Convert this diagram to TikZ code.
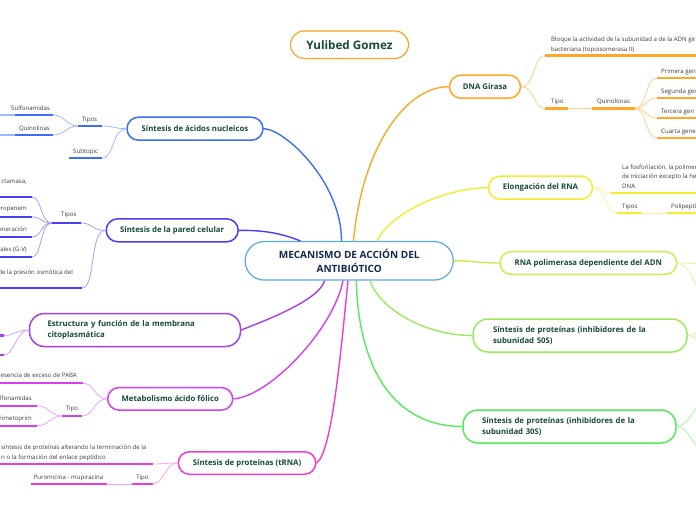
\documentclass[tikz,border=0pt]{standalone}
\usepackage{fontspec}
\setmainfont{Open Sans}
\definecolor{lbl}{HTML}{174A3C}
\definecolor{navy}{HTML}{13294B}
\definecolor{subtxt}{HTML}{3A3A3A}
\definecolor{ttlC}{HTML}{F5A623}
\definecolor{cenC}{HTML}{5AAAE0}
\definecolor{dnaC}{HTML}{FFA726}
\definecolor{dnaL}{HTML}{FFD08A}
\definecolor{elC}{HTML}{F4EC2E}
\definecolor{elL}{HTML}{F8F29A}
\definecolor{rpC}{HTML}{C6EE52}
\definecolor{rpL}{HTML}{E1F5A6}
\definecolor{sfC}{HTML}{9BEA5A}
\definecolor{sfL}{HTML}{CDF4AC}
\definecolor{stC}{HTML}{55EA5A}
\definecolor{stL}{HTML}{A8F3AB}
\definecolor{acC}{HTML}{3D6EF5}
\definecolor{acL}{HTML}{A0B8FA}
\definecolor{paC}{HTML}{4B3CF5}
\definecolor{paL}{HTML}{A79DF9}
\definecolor{meC}{HTML}{A23FF0}
\definecolor{meL}{HTML}{D0A2F8}
\definecolor{foC}{HTML}{D63FF0}
\definecolor{foL}{HTML}{EBA3F8}
\definecolor{trC}{HTML}{F03CD6}
\definecolor{trL}{HTML}{F8A3EC}
\begin{document}
\begin{tikzpicture}[x=1pt,y=-1pt,
 box/.style={draw,line width=1.5pt,fill=white,text=lbl,inner sep=0pt,font=\fontsize{7.8}{11}\selectfont\bfseries},
 subt/.style={inner sep=0pt,text=subtxt,font=\fontsize{6.1}{9.5}\selectfont},
 uline/.style={line width=2.2pt},
 mainc/.style={line width=1.4pt},
 linkc/.style={line width=0.8pt}]
\useasboundingbox (0,0) rectangle (696,520);

% ---------- boxes ----------
\node[box,draw=ttlC,line width=1.2pt,minimum width=118pt,minimum height=27.5pt,rounded corners=13.7pt,font=\fontsize{11.7}{14}\selectfont\bfseries] (title) at (349.5,44.7) {Yulibed Gomez};
\node[box,draw=cenC,line width=1.2pt,minimum width=208pt,minimum height=38.5pt,rounded corners=19pt,align=center,text=navy,font=\fontsize{10}{14}\selectfont\bfseries] (central) at (349.2,260.8) {MECANISMO DE ACCIÓN DEL\\ANTIBIÓTICO};
\node[box,draw=dnaC,minimum width=71pt,minimum height=23pt,rounded corners=11.5pt] (dna) at (485,86.7) {DNA Girasa};
\node[box,draw=elC,minimum width=104pt,minimum height=23pt,rounded corners=11.5pt] (elong) at (540.5,187.7) {Elongación del RNA};
\node[box,draw=rpC,minimum width=176.7pt,minimum height=22.7pt,rounded corners=11.3pt] (rnapol) at (588.3,263) {RNA polimerasa dependiente del ADN};
\node[box,draw=sfC,text width=174pt,inner xsep=20pt,minimum height=33pt,rounded corners=15pt,align=left] (s50) at (580,335.5) {Síntesis de proteínas (inhibidores de la\\subunidad 50S)};
\node[box,draw=stC,text width=175pt,inner xsep=19pt,minimum height=33pt,rounded corners=15pt,align=left] (s30) at (569.5,426.5) {Síntesis de proteínas (inhibidores de la\\subunidad 30S)};
\node[box,draw=acC,minimum width=136pt,minimum height=23pt,rounded corners=11.5pt] (acidos) at (195,128.7) {Síntesis de ácidos nucleicos};
\node[box,draw=paC,minimum width=132pt,minimum height=23pt,rounded corners=11.5pt] (pared) at (172.2,230.3) {Síntesis de la pared celular};
\node[box,draw=meC,text width=175pt,inner xsep=18pt,minimum height=33pt,rounded corners=15pt,align=left] (memb) at (135,330) {Estructura y función de la membrana\\citoplasmática};
\node[box,draw=foC,minimum width=125pt,minimum height=22.5pt,rounded corners=11.2pt] (folico) at (170.2,398.8) {Metabolismo ácido fólico};
\node[box,draw=trC,minimum width=137.5pt,minimum height=22.5pt,rounded corners=11.2pt] (trna) at (247,463) {Síntesis de proteínas (tRNA)};

% ---------- main connectors ----------
\draw[mainc,acC] (acidos.east) .. controls +(20,0) and +(0,-60) .. ([xshift=-7.7pt]central.north);
\draw[mainc,dnaC] ([xshift=4.3pt]central.north) .. controls +(8,-90) and +(-45,0) .. (dna.west);
\draw[mainc,elC] ([xshift=27.8pt]central.north) .. controls +(15,-30) and +(-40,0) .. (elong.west);
\draw[mainc,rpC] (central.east) .. controls +(20,0) and +(-20,0) .. (rnapol.west);
\draw[mainc,sfC] ([xshift=21pt]central.south) .. controls +(10,30) and +(-45,0) .. (s50.west);
\draw[mainc,stC] ([xshift=7pt]central.south) .. controls +(3,100) and +(-60,0) .. (s30.west);
\draw[mainc,paC] (pared.east) .. controls +(25,0) and +(-20,-8) .. ([xshift=-48.7pt]central.north);
\draw[mainc,meC] ([xshift=-24.7pt]central.south) .. controls +(-5,20) and +(20,-8) .. (memb.east);
\draw[mainc,foC] ([xshift=-6.2pt]central.south) .. controls +(-10,50) and +(35,-2) .. (folico.east);
\draw[mainc,trC] ([xshift=-1.2pt]central.south) .. controls +(-8,80) and +(15,-10) .. (trna.east);

% ---------- DNA Girasa children ----------
\coordinate (bqL) at (545,55.5); \coordinate (bqR) at (700,55.5);
\coordinate (tpL) at (545,108.5); \coordinate (tpR) at (568,108.5);
\coordinate (qnL) at (592,108.5); \coordinate (qnR) at (635,108.5);
\coordinate (g1L) at (657,78); \coordinate (g1R) at (700,78);
\coordinate (g2L) at (657,98); \coordinate (g2R) at (700,98);
\coordinate (g3L) at (657,118); \coordinate (g3R) at (700,118);
\coordinate (g4L) at (657,138); \coordinate (g4R) at (700,138);
\draw[linkc,dnaL] (dna.east) .. controls +(14,0) and +(-12,0) .. (bqL);
\draw[linkc,dnaL] (dna.east) .. controls +(14,0) and +(-12,0) .. (tpL);
\draw[linkc,dnaL] (tpR) -- (qnL);
\foreach \g in {g1L,g2L,g3L,g4L} \draw[linkc,dnaL] (qnR) .. controls +(12,0) and +(-12,0) .. (\g);
\draw[uline,dnaC] (bqL) -- (bqR);
\draw[uline,dnaC] (tpL) -- (tpR);
\draw[uline,dnaC] (qnL) -- (qnR);
\draw[uline,dnaC] (g1L) -- (g1R);
\draw[uline,dnaC] (g2L) -- (g2R);
\draw[uline,dnaC] (g3L) -- (g3R);
\draw[uline,dnaC] (g4L) -- (g4R);
\node[subt,anchor=south west,align=left] (bq) at (551,53) {Bloque la actividad de la subunidad a de la ADN gira\\bacteriana (topoisomerasa II)};
\node[subt,anchor=base west] (tp) at (551,103) {Tipo};
\node[subt,anchor=base west] (qn) at (597,103) {Quinolonas};
\node[subt,anchor=base west] (g1) at (661,73.5) {Primera gen};
\node[subt,anchor=base west] (g2) at (661,93.5) {Segunda gen};
\node[subt,anchor=base west] (g3) at (661,113.5) {Tercera gen};
\node[subt,anchor=base west] (g4) at (661,133.5) {Cuarta gene};

% ---------- Elongación children ----------
\coordinate (fsL) at (611,193); \coordinate (fsR) at (700,193);
\coordinate (tsL) at (617,213); \coordinate (tsR) at (642,213);
\coordinate (plL) at (667,213); \coordinate (plR) at (700,213);
\draw[linkc,elL] (elong.east) .. controls +(12,0) and +(-10,0) .. (fsL);
\draw[linkc,elL] (elong.east) .. controls +(12,0) and +(-12,0) .. (tsL);
\draw[linkc,elL] (tsR) -- (plL);
\draw[uline,elC] (fsL) -- (fsR);
\draw[uline,elC] (tsL) -- (tsR);
\draw[uline,elC] (plL) -- (plR);
\node[subt,anchor=south west,align=left] (fs) at (622,188.5) {La fosforilación, la polimer\\de iniciación excepto la hel\\DNA};
\node[subt,anchor=base west] (ts) at (622,208.5) {Tipos};
\node[subt,anchor=base west] (pl) at (671,208.5) {Polipeptí};

% ---------- right-edge children (off page) ----------
\coordinate (rpA) at (712,264); \coordinate (rpB) at (712,302);
\coordinate (sfA) at (712,322); \coordinate (sfB) at (712,350);
\coordinate (stA) at (712,395); \coordinate (stB) at (712,459);
\draw[linkc,rpL] (rnapol.east) .. controls +(15,0) and +(-15,0) .. (rpA);
\draw[linkc,rpL] (rnapol.east) .. controls +(15,0) and +(-15,0) .. (rpB);
\draw[linkc,sfL] (s50.east) .. controls +(12,0) and +(-12,0) .. (sfA);
\draw[linkc,sfL] (s50.east) .. controls +(12,0) and +(-12,0) .. (sfB);
\draw[linkc,stL] (s30.east) .. controls +(14,0) and +(-14,0) .. (stA);
\draw[linkc,stL] (s30.east) .. controls +(14,0) and +(-14,0) .. (stB);

% ---------- Ácidos nucleicos children ----------
\coordinate (atL) at (78,126); \coordinate (atR) at (102,126);
\coordinate (asL) at (15,115); \coordinate (asR) at (53,115); \coordinate (asX) at (-6,115);
\coordinate (aqL) at (15,135); \coordinate (aqR) at (53,135); \coordinate (aqX) at (-6,135);
\coordinate (abL) at (69,158.3); \coordinate (abR) at (102,158.3);
\draw[linkc,acL] (acidos.west) .. controls +(-12,0) and +(12,0) .. (atR);
\draw[linkc,acL] (acidos.west) .. controls +(-14,0) and +(12,0) .. (abR);
\draw[linkc,acL] (atL) .. controls +(-12,0) and +(12,0) .. (asR);
\draw[linkc,acL] (atL) .. controls +(-12,0) and +(12,0) .. (aqR);
\draw[uline,acL] (asL) -- (asX);
\draw[uline,acL] (aqL) -- (aqX);
\draw[uline,acC] (atL) -- (atR);
\draw[uline,acC] (asL) -- (asR);
\draw[uline,acC] (aqL) -- (aqR);
\draw[uline,acC] (abL) -- (abR);
\node[subt,anchor=base] (at) at (89.5,121) {Tipos};
\node[subt,anchor=base west] (as) at (11,110.3) {Sulfonamidas};
\node[subt,anchor=base west] (aq) at (19,130.3) {Quinolinas};
\node[subt,anchor=base west] (ab) at (73,153.5) {Subtopic};

% ---------- Pared celular children ----------
\coordinate (ptL) at (52,223); \coordinate (ptR) at (81,223);
\coordinate (p1L) at (-5,197); \coordinate (p1R) at (32,197);
\coordinate (p2L) at (-5,217); \coordinate (p2R) at (32,217);
\coordinate (p3L) at (-5,237); \coordinate (p3R) at (32,237);
\coordinate (p4L) at (-5,257); \coordinate (p4R) at (32,257);
\coordinate (p5L) at (-5,288); \coordinate (p5R) at (82,288);
\draw[linkc,paL] (pared.west) .. controls +(-14,0) and +(12,0) .. (ptR);
\draw[linkc,paL] (pared.west) .. controls +(-16,0) and +(14,0) .. (p5R);
\foreach \p in {p1R,p2R,p3R,p4R} \draw[linkc,paL] (ptL) .. controls +(-12,0) and +(10,0) .. (\p);
\draw[uline,paC] (ptL) -- (ptR);
\draw[uline,paC] (p1L) -- (p1R);
\draw[uline,paC] (p2L) -- (p2R);
\draw[uline,paC] (p3L) -- (p3R);
\draw[uline,paC] (p4L) -- (p4R);
\draw[uline,paC] (p5L) -- (p5R);
\node[subt,anchor=base west] (pt) at (61,216.5) {Tipos};
\node[subt,anchor=base east] (p1) at (27,183.5) {ctamasa,};
\node[subt,anchor=base east] (p2) at (27,210.5) {eropenem};
\node[subt,anchor=base east] (p3) at (27,231.5) {eneración};
\node[subt,anchor=base east] (p4) at (27,251.5) {ales (G-V)};
\node[subt,anchor=base east] (p5) at (73,274.5) {de la presión osmótica del};

% ---------- Membrana children ----------
\coordinate (m1L) at (-5,335.5); \coordinate (m1R) at (4,335.5);
\coordinate (m2L) at (-5,355); \coordinate (m2R) at (4,355);
\draw[linkc,meL] (memb.west) .. controls +(-12,0) and +(10,0) .. (m1R);
\draw[linkc,meL] (memb.west) .. controls +(-12,0) and +(10,0) .. (m2R);
\draw[uline,meC] (m1L) -- (m1R);
\draw[uline,meC] (m2L) -- (m2R);

% ---------- Fólico children ----------
\coordinate (f1L) at (-5,383.3); \coordinate (f1R) at (83,383.3);
\coordinate (ftL) at (62,416); \coordinate (ftR) at (82,416);
\coordinate (f2L) at (-5,405.7); \coordinate (f2R) at (37,405.7);
\coordinate (f3L) at (-5,425.7); \coordinate (f3R) at (37,425.7);
\draw[linkc,foL] (folico.west) .. controls +(-13,0) and +(12,0) .. (f1R);
\draw[linkc,foL] (folico.west) .. controls +(-13,0) and +(12,0) .. (ftR);
\draw[linkc,foL] (ftL) .. controls +(-12,0) and +(12,0) .. (f2R);
\draw[linkc,foL] (ftL) .. controls +(-12,0) and +(12,0) .. (f3R);
\draw[uline,foC] (f1L) -- (f1R);
\draw[uline,foC] (ftL) -- (ftR);
\draw[uline,foC] (f2L) -- (f2R);
\draw[uline,foC] (f3L) -- (f3R);
\node[subt,anchor=base east] (f1) at (77,377.5) {resencia de exceso de PABA};
\node[subt,anchor=base] (ft) at (72,410.5) {Tipo};
\node[subt,anchor=base east] (f2) at (32,400.5) {lfonamidas};
\node[subt,anchor=base east] (f3) at (32,420.5) {rimetoprim};

% ---------- tRNA children ----------
\coordinate (t1L) at (-5,464); \coordinate (t1R) at (153,464);
\coordinate (t2L) at (132,484); \coordinate (t2R) at (153,484);
\coordinate (t3L) at (31,484); \coordinate (t3R) at (107,484);
\draw[linkc,trL] (trna.west) .. controls +(-12,0) and +(10,0) .. (t1R);
\draw[linkc,trL] (trna.west) .. controls +(-12,0) and +(10,0) .. (t2R);
\draw[linkc,trL] (t2L) -- (t3R);
\draw[uline,trC] (t1L) -- (t1R);
\draw[uline,trC] (t2L) -- (t2R);
\draw[uline,trC] (t3L) -- (t3R);
\node[subt,anchor=south west,align=left] (t1) at (1,461) {síntesis de proteínas alterando la terminación de la\\n o la formación del enlace peptídico};
\node[subt,anchor=base] (t2) at (142.5,479.5) {Tipo};
\node[subt,anchor=base] (t3) at (68.5,479.5) {Puromicina - mupiracina};
\end{tikzpicture}
\end{document}
